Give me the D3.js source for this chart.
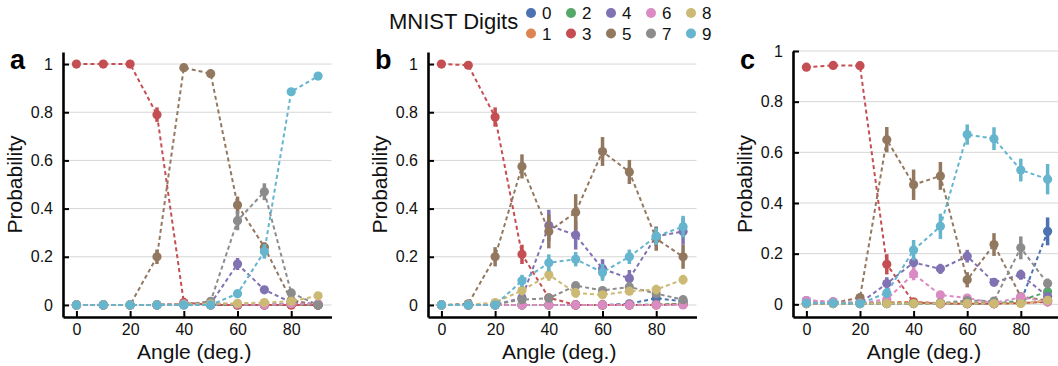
<!DOCTYPE html>
<html>
<head>
<meta charset="utf-8">
<script src="https://cdn.jsdelivr.net/npm/d3@7"></script>
<style>
  html, body { margin: 0; padding: 0; background: #fff; }
  svg { display: block; font-family: "Liberation Sans", Arial, Helvetica, sans-serif; }
</style>
</head>
<body>
<svg id="chart" width="1058" height="366"></svg>
<script>
// ---------- data ----------
const angles = [0, 10, 20, 30, 40, 50, 60, 70, 80, 90];
const digits = ["0", "1", "2", "3", "4", "5", "6", "7", "8", "9"];
const digitColors = ["#4C72B0", "#DD8452", "#55A868", "#C44E52", "#8172B3",
                     "#937860", "#DA8BC3", "#8C8C8C", "#CCB974", "#64B5CD"];
const xTicks = [0, 20, 40, 60, 80];
const yTicks = [0, 0.2, 0.4, 0.6, 0.8, 1];
const yTickLabels = ["0", "0.2", "0.4", "0.6", "0.8", "1"];

// Panel a: mean probability per digit (rows = digits 0..9, columns = angles)
const panelAMean = [
  [0, 0, 0, 0, 0, 0, 0, 0, 0.005, 0],
  [0, 0, 0, 0, 0.005, 0.005, 0, 0, 0, 0],
  [0, 0, 0, 0, 0.005, 0.005, 0, 0, 0.002, 0],
  [1, 1, 1, 0.79, 0.01, 0, 0, 0, 0, 0],
  [0, 0, 0, 0, 0.003, 0.005, 0.17, 0.063, 0.01, 0.003],
  [0, 0, 0, 0.2, 0.985, 0.96, 0.415, 0.24, 0.02, 0],
  [0, 0, 0, 0, 0.005, 0.008, 0.003, 0, 0.005, 0.005],
  [0, 0, 0, 0, 0.002, 0.015, 0.35, 0.47, 0.05, 0],
  [0, 0, 0, 0, 0.002, 0.005, 0.007, 0.01, 0.015, 0.038],
  [0, 0, 0, 0, 0, 0, 0.047, 0.222, 0.885, 0.95]
];
const panelAErr = [
  [0, 0, 0, 0, 0, 0, 0, 0, 0, 0],
  [0, 0, 0, 0, 0, 0, 0, 0, 0, 0],
  [0, 0, 0, 0, 0, 0, 0, 0, 0, 0],
  [0, 0, 0, 0.03, 0.02, 0, 0, 0, 0, 0],
  [0, 0, 0, 0, 0, 0, 0.025, 0.01, 0.005, 0],
  [0, 0, 0, 0.03, 0.005, 0.005, 0.035, 0.02, 0.01, 0],
  [0, 0, 0, 0, 0, 0, 0, 0, 0, 0],
  [0, 0, 0, 0, 0, 0.01, 0.04, 0.035, 0.012, 0],
  [0, 0, 0, 0, 0, 0, 0, 0, 0.005, 0.008],
  [0, 0, 0, 0, 0, 0, 0.005, 0.03, 0.015, 0.005]
];

// Panel b
const panelBMean = [
  [0, 0, 0, 0, 0, 0, 0, 0.005, 0.028, 0.015],
  [0, 0, 0, 0, 0, 0, 0, 0, 0, 0.002],
  [0, 0, 0, 0, 0, 0, 0, 0, 0.002, 0.005],
  [1, 0.995, 0.78, 0.21, 0.03, 0, 0, 0, 0, 0.003],
  [0, 0, 0, 0.03, 0.33, 0.29, 0.15, 0.11, 0.285, 0.305],
  [0, 0.005, 0.2, 0.575, 0.305, 0.385, 0.637, 0.552, 0.275, 0.2],
  [0, 0, 0, 0, 0, 0, 0, 0, 0, 0],
  [0, 0, 0.003, 0.022, 0.028, 0.08, 0.06, 0.075, 0.047, 0.022],
  [0, 0, 0.01, 0.06, 0.125, 0.05, 0.042, 0.057, 0.064, 0.105],
  [0, 0, 0, 0.1, 0.175, 0.19, 0.135, 0.2, 0.285, 0.325]
];
const panelBErr = [
  [0, 0, 0, 0, 0, 0, 0, 0, 0.012, 0.005],
  [0, 0, 0, 0, 0, 0, 0, 0, 0, 0],
  [0, 0, 0, 0, 0, 0, 0, 0, 0, 0],
  [0, 0.005, 0.04, 0.04, 0.01, 0, 0, 0, 0, 0],
  [0, 0, 0, 0.02, 0.065, 0.06, 0.04, 0.035, 0.04, 0.055],
  [0, 0.005, 0.04, 0.05, 0.07, 0.075, 0.06, 0.05, 0.05, 0.05],
  [0, 0, 0, 0, 0, 0, 0, 0, 0, 0],
  [0, 0, 0, 0.015, 0.01, 0.015, 0.015, 0.02, 0.015, 0.01],
  [0, 0, 0.008, 0.02, 0.025, 0.02, 0.015, 0.015, 0.02, 0.02],
  [0, 0, 0, 0.025, 0.035, 0.03, 0.035, 0.03, 0.035, 0.045]
];

// Panel c
const panelCMean = [
  [0.003, 0.003, 0.003, 0.003, 0.003, 0.003, 0.003, 0.003, 0.01, 0.288],
  [0.005, 0.005, 0.005, 0.008, 0.01, 0.005, 0.005, 0.005, 0.005, 0.01],
  [0.003, 0.003, 0.003, 0.003, 0.003, 0.003, 0.003, 0.003, 0.015, 0.05],
  [0.936, 0.943, 0.942, 0.158, 0.008, 0.002, 0.002, 0.002, 0.005, 0.01],
  [0.015, 0.01, 0.005, 0.082, 0.165, 0.14, 0.19, 0.087, 0.117, 0.031],
  [0.003, 0.005, 0.027, 0.65, 0.472, 0.507, 0.097, 0.236, 0.03, 0.015],
  [0.015, 0.01, 0.005, 0.02, 0.12, 0.037, 0.025, 0.005, 0.028, 0.01],
  [0.003, 0.003, 0.003, 0.003, 0.003, 0.005, 0.015, 0.013, 0.223, 0.082],
  [0.003, 0.003, 0.003, 0.003, 0.003, 0.003, 0.003, 0.003, 0.003, 0.016],
  [0.005, 0.005, 0.003, 0.045, 0.214, 0.308, 0.67, 0.654, 0.53, 0.494]
];
const panelCErr = [
  [0, 0, 0, 0, 0, 0, 0, 0, 0.005, 0.055],
  [0, 0, 0, 0, 0, 0, 0, 0, 0, 0],
  [0, 0, 0, 0, 0, 0, 0, 0, 0.005, 0.015],
  [0.005, 0.003, 0.003, 0.04, 0.005, 0, 0, 0, 0, 0],
  [0.003, 0.003, 0.003, 0.025, 0.02, 0.02, 0.025, 0.015, 0.02, 0.01],
  [0, 0, 0.01, 0.05, 0.06, 0.055, 0.03, 0.045, 0.01, 0.005],
  [0.003, 0.003, 0, 0, 0.025, 0.015, 0.01, 0, 0.01, 0],
  [0, 0, 0, 0, 0, 0, 0.005, 0.005, 0.045, 0.02],
  [0, 0, 0, 0, 0, 0, 0, 0, 0, 0.005],
  [0, 0, 0, 0.02, 0.04, 0.05, 0.04, 0.045, 0.045, 0.06]
];

// ---------- drawing ----------
const svg = d3.select("#chart");
const FONT_TICK = 16, FONT_LABEL = 21;

const panels = [
  { label: "a", left: 63,  right: 331.5, top: 52, yDomain: [-0.05, 1.05], mean: panelAMean, err: panelAErr },
  { label: "b", left: 428, right: 696.5, top: 52, yDomain: [-0.05, 1.05], mean: panelBMean, err: panelBErr },
  { label: "c", left: 793, right: 1061,  top: 51, yDomain: [-0.05, 1.0],  mean: panelCMean, err: panelCErr }
];
const bottom = 317;

panels.forEach(p => {
  const x = d3.scaleLinear().domain([-5, 95]).range([p.left, p.right]);
  const y = d3.scaleLinear().domain(p.yDomain).range([bottom, p.top]);
  const g = svg.append("g");

  // grid
  g.append("g").selectAll("line").data(yTicks).join("line")
    .attr("x1", p.left).attr("x2", p.right)
    .attr("y1", d => y(d)).attr("y2", d => y(d))
    .attr("stroke", "#d6d6d6").attr("stroke-width", 1);

  // axes
  const yAxis = d3.axisLeft(y).tickValues(yTicks)
    .tickFormat((d, i) => yTickLabels[i]).tickSizeInner(-6).tickSizeOuter(0).tickPadding(10);
  const ya = g.append("g").attr("transform", `translate(${p.left},0)`).call(yAxis);
  const xAxis = d3.axisBottom(x).tickValues(xTicks).tickSizeInner(-6).tickSizeOuter(0).tickPadding(7);
  const xa = g.append("g").attr("transform", `translate(0,${bottom})`).call(xAxis);
  [ya, xa].forEach(a => {
    a.select(".domain").attr("stroke", "#000").attr("stroke-width", 2.6);
    a.selectAll(".tick line").attr("stroke", "#000").attr("stroke-width", 2);
    a.selectAll(".tick text").attr("font-size", FONT_TICK).attr("fill", "#111")
      .attr("font-family", "'Liberation Sans', Arial, sans-serif");
  });

  // series
  p.mean.forEach((vals, di) => {
    const color = digitColors[di];
    const pts = vals.map((v, i) => ({ a: angles[i], v, e: p.err[di][i] }));
    const sg = g.append("g");
    sg.append("path").datum(pts)
      .attr("d", d3.line().x(d => x(d.a)).y(d => y(d.v)))
      .attr("fill", "none").attr("stroke", color).attr("stroke-width", 2)
      .attr("stroke-dasharray", "4,3");
    sg.selectAll("line.err").data(pts.filter(d => d.e > 0)).join("line")
      .attr("class", "err")
      .attr("x1", d => x(d.a)).attr("x2", d => x(d.a))
      .attr("y1", d => y(d.v - d.e)).attr("y2", d => y(d.v + d.e))
      .attr("stroke", color).attr("stroke-width", 3.5);
    sg.selectAll("circle").data(pts).join("circle")
      .attr("cx", d => x(d.a)).attr("cy", d => y(d.v)).attr("r", 4.6)
      .attr("fill", color);
  });

  // panel label
  svg.append("text").attr("x", p.left - 53).attr("y", 69)
    .attr("font-size", 27).attr("font-weight", "bold").attr("fill", "#000")
    .text(p.label);

  // axis labels
  svg.append("text")
    .attr("transform", `translate(${p.left - 41},${(bottom + p.top) / 2}) rotate(-90)`)
    .attr("text-anchor", "middle").attr("font-size", FONT_LABEL).attr("fill", "#111")
    .text("Probability");
  svg.append("text")
    .attr("x", (p.left + p.right) / 2 - 3).attr("y", 359)
    .attr("text-anchor", "middle").attr("font-size", FONT_LABEL).attr("fill", "#111")
    .text("Angle (deg.)");
});

// legend
svg.append("text").attr("x", 389).attr("y", 29)
  .attr("font-size", 22).attr("fill", "#111").text("MNIST Digits");
const leg = svg.append("g").selectAll("g").data(digits).join("g")
  .attr("transform", (d, i) => `translate(${531 + 40 * Math.floor(i / 2)},${i % 2 === 0 ? 13 : 33.5})`);
leg.append("circle").attr("r", 5).attr("fill", (d, i) => digitColors[i]);
leg.append("text").attr("x", 11).attr("dy", "0.36em")
  .attr("font-size", 17).attr("fill", "#111").text(d => d);
</script>
</body>
</html>
